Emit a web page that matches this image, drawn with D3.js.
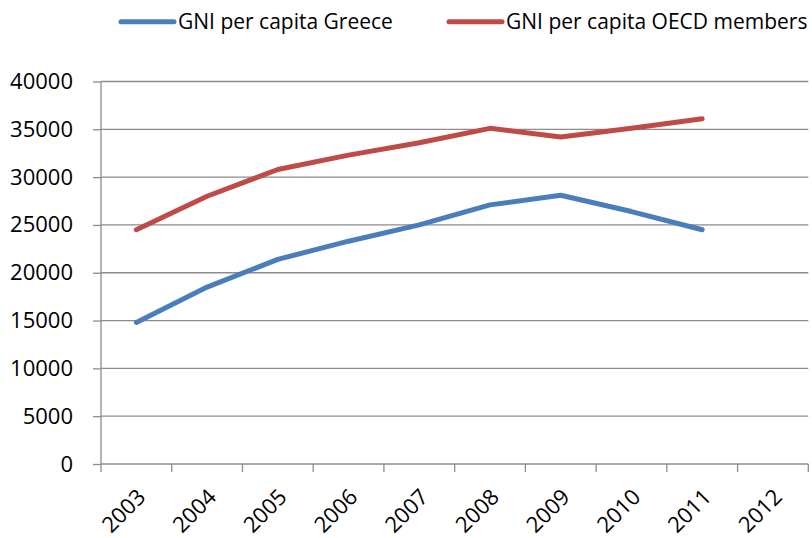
<!DOCTYPE html>
<html>
<head>
    <title></title>
    <script src="https://d3js.org/d3.v7.min.js"></script>
    <style>
        body { margin: 0; background: #fff; }
        text { font-family: "Open Sans", sans-serif; fill: #000; }
    </style>
</head>
<body>
    <svg id="chart" width="812" height="538"></svg>
    <script>
    // data
    let years = ["2003", "2004", "2005", "2006", "2007", "2008", "2009", "2010", "2011", "2012"];
    let greece = [14800, 18500, 21400, 23300, 25000, 27100, 28100, 26400, 24500, null];
    let oecd   = [24500, 28000, 30800, 32300, 33600, 35100, 34200, 35100, 36100, null];
    let yTicks = [0, 5000, 10000, 15000, 20000, 25000, 30000, 35000, 40000];
    let seriesNames = ["GNI per capita Greece", "GNI per capita OECD members"];
    let colors = ["#4a7ebb", "#be4b48"];

    let svg = d3.select("#chart");
    let pLeft = 101, pRight = 808.3, pTop = 81.5, pBottom = 464;

    let x = d3.scaleBand().domain(years).range([pLeft, pRight]).padding(0);
    let y = d3.scaleLinear().domain([0, 40000]).range([pBottom, pTop]);

    // gridlines
    svg.append("g").selectAll("line").data(yTicks.filter(d => d > 0)).join("line")
        .attr("x1", pLeft).attr("x2", pRight)
        .attr("y1", d => y(d)).attr("y2", d => y(d))
        .attr("stroke", "#8c8c8c").attr("stroke-width", 1.3);

    // y axis
    let ya = svg.append("g").attr("transform", "translate(" + pLeft + ",0)")
        .call(d3.axisLeft(y).tickValues(yTicks).tickSize(8).tickPadding(20).tickFormat(d3.format("d")));
    ya.selectAll("line, path").attr("stroke", "#8c8c8c").attr("stroke-width", 1.3);
    ya.select(".domain").attr("d", "M0," + pTop + "V" + pBottom);
    ya.selectAll("text").style("font-size", "22px").attr("fill", "#000");

    // x axis
    let xa = svg.append("g").attr("transform", "translate(0," + pBottom + ")")
        .call(d3.axisBottom(x).tickSize(0).tickPadding(0));
    xa.select(".domain").attr("stroke", "#8c8c8c").attr("stroke-width", 1.3)
        .attr("d", "M" + pLeft + ",0H" + pRight);
    xa.selectAll(".tick text")
        .style("font-size", "22px")
        .attr("text-anchor", "end")
        .attr("dy", "0.35em")
        .attr("transform", "translate(5,29) rotate(-45)");
    let bounds = years.map(d => x(d)).concat([pRight]);
    xa.append("g").selectAll("line").data(bounds).join("line")
        .attr("x1", d => d).attr("x2", d => d)
        .attr("y1", 0).attr("y2", 8)
        .attr("stroke", "#8c8c8c").attr("stroke-width", 1.3);

    // lines
    let line = d3.line()
        .defined(d => d[1] != null)
        .x(d => x(d[0]) + x.bandwidth() / 2)
        .y(d => y(d[1]));
    [greece, oecd].forEach((s, i) => {
        svg.append("path")
            .datum(years.map((yr, j) => [yr, s[j]]))
            .attr("d", line)
            .attr("fill", "none")
            .attr("stroke", colors[i])
            .attr("stroke-width", 5)
            .attr("stroke-linecap", "round")
            .attr("stroke-linejoin", "round");
    });

    // legend
    let legX = [121, 449];
    let leg = svg.append("g");
    seriesNames.forEach((n, i) => {
        leg.append("line")
            .attr("x1", legX[i]).attr("x2", legX[i] + 53)
            .attr("y1", 21.7).attr("y2", 21.7)
            .attr("stroke", colors[i]).attr("stroke-width", 5)
            .attr("stroke-linecap", "round");
        leg.append("text")
            .attr("x", legX[i] + 57).attr("y", 21.7)
            .attr("dy", "0.35em")
            .style("font-size", "21px")
            .text(n);
    });
    </script>
</body>
</html>
